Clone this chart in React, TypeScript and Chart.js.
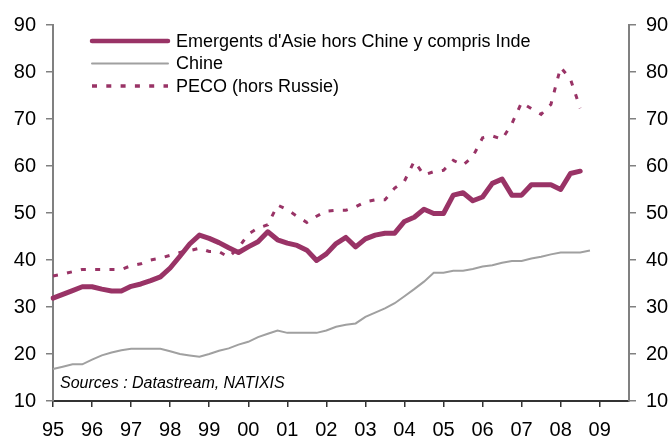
import React, { useEffect, useRef } from 'react';
import { Chart, registerables } from 'chart.js';

Chart.register(...registerables);

// ---- Data ----
const years = [1995, 1996, 1997, 1998, 1999, 2000, 2001, 2002, 2003, 2004, 2005, 2006, 2007, 2008, 2009];
const quarterNames = ['T1', 'T2', 'T3', 'T4'];
const quarters = years.flatMap((y) => quarterNames.map((q) => `${y} ${q}`));
const yTicks = [10, 20, 30, 40, 50, 60, 70, 80, 90];

const seriesNames = [
  "Emergents d'Asie hors Chine y compris Inde",
  'Chine',
  'PECO (hors Russie)',
];
const sourceText = 'Sources : Datastream, NATIXIS';

// quarterly, from 1995 T1
const asia = [
  31.9, 32.7, 33.5, 34.3,
  34.3, 33.8, 33.4, 33.4,
  34.4, 34.9, 35.6, 36.4,
  38.3, 40.8, 43.4, 45.3,
  44.6, 43.7, 42.6, 41.6,
  42.8, 43.9, 46.0, 44.3,
  43.6, 43.1, 42.1, 39.9,
  41.3, 43.5, 44.8, 42.8,
  44.5, 45.3, 45.7, 45.7,
  48.2, 49.1, 50.8, 49.9,
  49.9, 53.8, 54.3, 52.6,
  53.4, 56.3, 57.2, 53.8,
  53.8, 56.0, 56.0, 56.0,
  55.0, 58.4, 58.9,
];

const chine = [
  16.8, 17.3, 17.8, 17.8,
  18.8, 19.7, 20.3, 20.8,
  21.1, 21.1, 21.1, 21.1,
  20.6, 20.0, 19.7, 19.4,
  20.0, 20.7, 21.2, 22.0,
  22.6, 23.6, 24.3, 25.0,
  24.5, 24.5, 24.5, 24.5,
  25.0, 25.8, 26.2, 26.5,
  27.9, 28.8, 29.7, 30.8,
  32.3, 33.8, 35.4, 37.3,
  37.3, 37.7, 37.7, 38.1,
  38.6, 38.9, 39.4, 39.8,
  39.8, 40.3, 40.7, 41.2,
  41.6, 41.6, 41.6, 42.0,
];

const peco = [
  36.6, 37.0, 37.5, 38.0,
  38.0, 38.0, 38.0, 38.0,
  38.8, 39.2, 40.0, 40.4,
  41.0, 41.6, 42.0, 42.5,
  41.8, 41.8, 40.6, 42.6,
  45.5, 46.8, 47.5, 51.7,
  50.7, 49.3, 48.0, 49.3,
  50.4, 50.6, 50.6, 51.3,
  52.4, 52.8, 52.8, 55.3,
  56.8, 61.0, 58.1, 58.8,
  59.1, 61.2, 60.2, 62.0,
  66.0, 66.4, 65.7, 69.0,
  73.5, 72.2, 71.0, 73.1,
  81.0, 78.5, 72.3,
];

const PLUM = '#993366';
const GREY = '#a0a0a0';
const FONT = '"Liberation Sans", Arial, sans-serif';

const inPlotText = {
  id: 'inPlotText',
  afterDatasetsDraw(chart: any) {
    const ctx = chart.ctx;
    const area = chart.chartArea;
    ctx.save();
    chart.data.datasets.forEach((ds: any, i: number) => {
      const y = area.top + 16 + i * 22.5;
      const x0 = area.left + 39;
      ctx.strokeStyle = ds.borderColor;
      ctx.lineWidth = ds.legendWidth;
      ctx.lineCap = ds.borderDash ? 'butt' : 'round';
      ctx.setLineDash(ds.borderDash || []);
      ctx.beginPath();
      ctx.moveTo(x0, y);
      ctx.lineTo(x0 + 76, y);
      ctx.stroke();
      ctx.setLineDash([]);
      ctx.fillStyle = '#000';
      ctx.font = `18px ${FONT}`;
      ctx.textBaseline = 'middle';
      ctx.textAlign = 'left';
      ctx.fillText(ds.label, x0 + 84, y + 1);
    });
    ctx.font = `italic 16px ${FONT}`;
    ctx.fillStyle = '#000';
    ctx.textBaseline = 'middle';
    ctx.fillText(sourceText, area.left + 7, area.bottom - 17);
    ctx.restore();
  },
};

export default function App() {
  const ref = useRef<HTMLCanvasElement>(null);

  useEffect(() => {
    document.body.style.margin = '0';
    const canvas = ref.current;
    if (!canvas) return;
    const chart = new Chart(canvas, {
      type: 'line',
      data: {
        labels: quarters,
        datasets: [
          {
            label: seriesNames[0],
            data: asia,
            borderColor: PLUM,
            borderWidth: 5,
            borderCapStyle: 'round',
            borderJoinStyle: 'round',
            pointRadius: 0,
            tension: 0,
            legendWidth: 4.5,
          } as any,
          {
            label: seriesNames[1],
            data: chine,
            borderColor: GREY,
            borderWidth: 2,
            pointRadius: 0,
            tension: 0,
            legendWidth: 2,
          } as any,
          {
            label: seriesNames[2],
            data: peco,
            borderColor: PLUM,
            borderWidth: 3,
            borderDash: [5, 9.3],
            pointRadius: 0,
            tension: 0,
            legendWidth: 3.3,
          } as any,
        ],
      },
      options: {
        responsive: false,
        animation: false,
        devicePixelRatio: 1,
        layout: { padding: { top: 25, left: 0, right: 0, bottom: 0 } },
        plugins: {
          legend: { display: false },
          tooltip: { enabled: false },
          title: { display: false },
        },
        scales: {
          x: {
            type: 'category',
            offset: false,
            border: { display: true, color: '#333333', width: 2 },
            grid: {
              display: true,
              drawOnChartArea: false,
              drawTicks: true,
              tickLength: 6,
              color: '#333333',
              lineWidth: 1.5,
            },
            ticks: {
              autoSkip: false,
              maxRotation: 0,
              minRotation: 0,
              padding: 11,
              color: '#000',
              font: { family: FONT, size: 20 },
              callback: (_v: any, idx: number) =>
                idx % 4 === 0 ? String(years[idx / 4]).slice(2) : null,
            },
            afterFit: (s: any) => {
              s.height = 40;
            },
          },
          y: {
            type: 'linear',
            position: 'left',
            min: yTicks[0],
            max: yTicks[yTicks.length - 1],
            border: { display: true, color: '#808080', width: 2 },
            grid: {
              display: true,
              drawOnChartArea: false,
              drawTicks: true,
              tickLength: 7,
              color: '#808080',
              lineWidth: 1.5,
            },
            ticks: {
              stepSize: 10,
              padding: 10,
              color: '#000',
              font: { family: FONT, size: 20 },
            },
            afterFit: (s: any) => {
              s.width = 53;
            },
          },
          y2: {
            type: 'linear',
            position: 'right',
            min: yTicks[0],
            max: yTicks[yTicks.length - 1],
            border: { display: true, color: '#808080', width: 2 },
            grid: {
              display: true,
              drawOnChartArea: false,
              drawTicks: true,
              tickLength: 7,
              color: '#808080',
              lineWidth: 1.5,
            },
            ticks: {
              stepSize: 10,
              padding: 10,
              color: '#000',
              font: { family: FONT, size: 20 },
            },
            afterFit: (s: any) => {
              s.width = 42;
            },
          },
        },
      } as any,
      plugins: [inPlotText],
    });
    return () => chart.destroy();
  }, []);

  return (
    <div style={{ width: 671, height: 441, background: '#fff' }}>
      <canvas ref={ref} width={671} height={441} style={{ display: 'block' }} />
    </div>
  );
}
